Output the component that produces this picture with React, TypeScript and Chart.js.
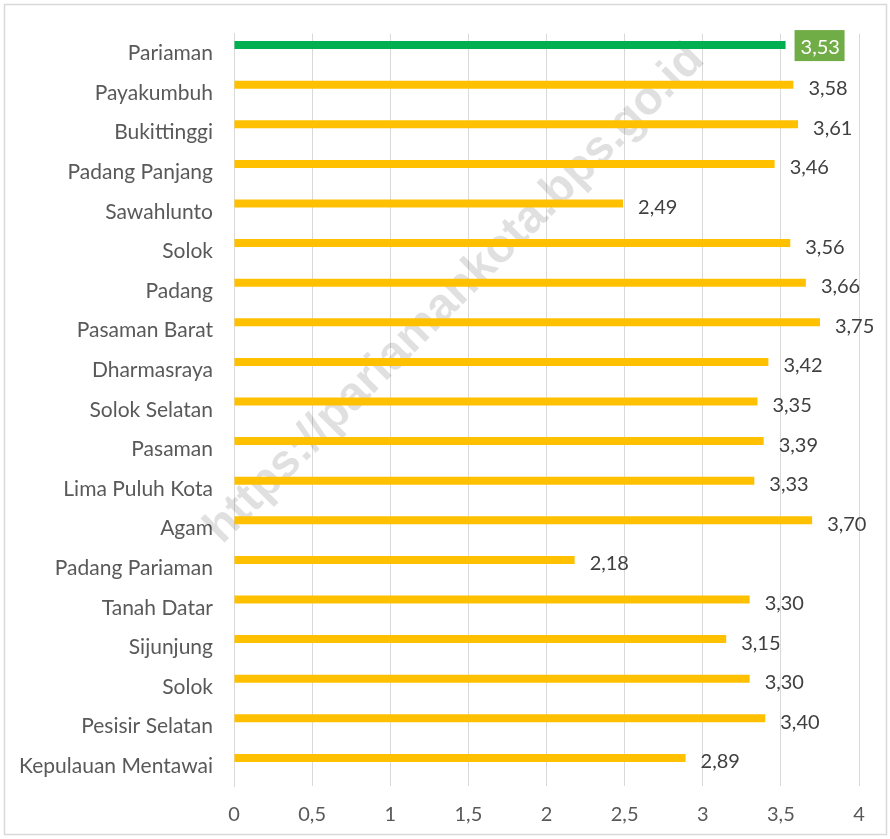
import React, { useEffect, useRef } from "react";
import { Chart, registerables } from "chart.js";

Chart.register(...registerables);

const categories = [
  "Pariaman", "Payakumbuh", "Bukittinggi", "Padang Panjang", "Sawahlunto", "Solok",
  "Padang", "Pasaman Barat", "Dharmasraya", "Solok Selatan", "Pasaman", "Lima Puluh Kota",
  "Agam", "Padang Pariaman", "Tanah Datar", "Sijunjung", "Solok", "Pesisir Selatan",
  "Kepulauan Mentawai",
];
const values = [
  3.53, 3.58, 3.61, 3.46, 2.49, 3.56, 3.66, 3.75, 3.42, 3.35, 3.39, 3.33, 3.70, 2.18,
  3.30, 3.15, 3.30, 3.40, 2.89,
];
const emptySeries = categories.map(() => null);
const highlightIndex = 0;
const watermark = "https://pariamankota.bps.go.id";

const FONT = "Lato, 'Open Sans', sans-serif";
const fmt = (v: number, d: number) => v.toFixed(d).replace(".", ",");

const decorPlugin = {
  id: "decor",
  beforeDraw(chart: any) {
    const ctx = chart.ctx;
    ctx.save();
    ctx.fillStyle = "#ffffff";
    ctx.fillRect(0, 0, chart.width, chart.height);
    ctx.strokeStyle = "#D9D9D9";
    ctx.lineWidth = 1.5;
    ctx.strokeRect(4.5, 4.5, 882, 830);
    ctx.restore();
  },
  beforeDatasetsDraw(chart: any) {
    const ctx = chart.ctx;
    ctx.save();
    ctx.translate(455, 294);
    ctx.rotate(-Math.PI / 4);
    ctx.font = `bold 47px 'Liberation Sans', Arial, sans-serif`;
    ctx.textAlign = "center";
    ctx.textBaseline = "middle";
    ctx.fillStyle = "rgba(0,0,0,0.12)";
    ctx.fillText(watermark, 0, 0);
    ctx.restore();
  },
  afterDatasetsDraw(chart: any) {
    const ctx = chart.ctx;
    const meta = chart.getDatasetMeta(0);
    ctx.save();
    ctx.font = `20px ${FONT}`;
    ctx.textBaseline = "middle";
    ctx.textAlign = "left";
    meta.data.forEach((bar: any, i: number) => {
      const txt = fmt(values[i], 2);
      const x = bar.x;
      const y = bar.y;
      if (i === highlightIndex) {
        ctx.fillStyle = "#70AD47";
        ctx.fillRect(x + 9, y - 15, 50, 31);
        ctx.fillStyle = "#ffffff";
        ctx.fillText(txt, x + 15, y + 2);
      } else {
        ctx.fillStyle = "#404040";
        ctx.fillText(txt, x + 15, y + 4);
      }
    });
    ctx.restore();
  },
};

export default function App() {
  const ref = useRef<HTMLCanvasElement | null>(null);
  useEffect(() => {
    if (!ref.current) return;
    const chart = new Chart(ref.current, {
      type: "bar",
      data: {
        labels: categories,
        datasets: [
          {
            data: values,
            backgroundColor: values.map((_, i) => (i === highlightIndex ? "#00B050" : "#FFC000")),
            categoryPercentage: 0.84,
            barPercentage: 0.48,
          },
          {
            data: emptySeries as any,
            backgroundColor: "#FFC000",
            categoryPercentage: 0.84,
            barPercentage: 0.48,
          },
        ],
      },
      options: {
        indexAxis: "y",
        animation: false,
        responsive: false,
        layout: { padding: { top: 29, right: 31, left: 0, bottom: 0 } },
        plugins: {
          legend: { display: false },
          tooltip: { enabled: false },
        },
        scales: {
          x: {
            min: 0,
            max: 4,
            ticks: {
              stepSize: 0.5,
              padding: 17,
              color: "#595959",
              font: { family: FONT, size: 20 },
              callback: (v: any) => String(v).replace(".", ","),
            },
            grid: { color: "#D9D9D9", lineWidth: 1, drawTicks: false },
            border: { display: false },
            afterFit: (s: any) => { s.height = 53; },
          },
          y: {
            ticks: {
              padding: 21,
              color: "#595959",
              font: { family: FONT, size: 21 },
              autoSkip: false,
            },
            grid: { display: false, drawTicks: false },
            border: { display: true, color: "#D9D9D9", width: 1 },
            afterFit: (s: any) => { s.width = 234; },
          },
        },
      },
      plugins: [decorPlugin],
    });
    return () => chart.destroy();
  }, []);
  return (
    <div style={{ position: "absolute", left: 0, top: 0, width: 890, height: 839 }}>
      <canvas ref={ref} width={890} height={839} />
    </div>
  );
}
